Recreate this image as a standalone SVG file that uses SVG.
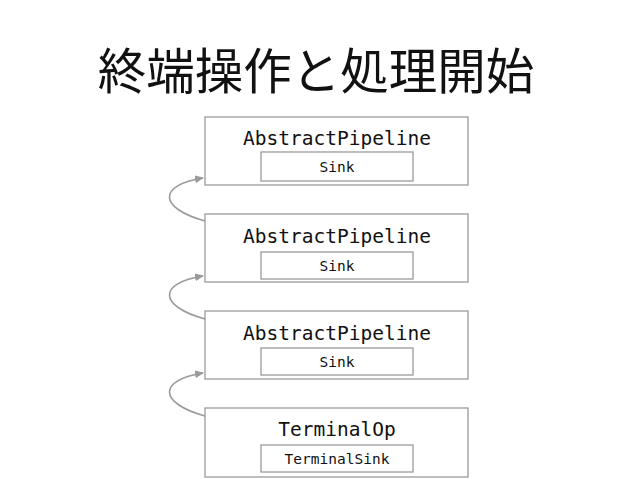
<svg xmlns="http://www.w3.org/2000/svg" width="638" height="479" viewBox="0 0 638 479">
<defs>
<style>
.box{fill:#fff;stroke:#9a9a9a;stroke-width:1.3}
.t{font-family:"DejaVu Sans Mono","Liberation Mono",monospace;fill:#111;text-anchor:middle}
.big{font-size:19.5px}
.small{font-size:14.5px}
.conn{fill:none;stroke:#9a9a9a;stroke-width:1.6}
</style>
<marker id="ah" markerWidth="10" markerHeight="8" refX="8" refY="4" orient="auto" markerUnits="userSpaceOnUse">
<path d="M0,0 L9,4 L0,8 z" fill="#9a9a9a"/>
</marker>
</defs>
<rect width="638" height="479" fill="#fff"/>
<text x="316" y="89" font-family="'Noto Sans CJK JP',sans-serif" font-size="48.5" text-anchor="middle" fill="#111">終端操作と処理開始</text>
<g id="n1">
<rect class="box" x="205" y="117" width="263" height="68"/>
<text class="t big" x="337" y="145">AbstractPipeline</text>
<rect class="box" x="261" y="152" width="152" height="29"/>
<text class="t small" x="337" y="172">Sink</text>
</g>
<g id="n2">
<rect class="box" x="205" y="214" width="263" height="68"/>
<text class="t big" x="337" y="243">AbstractPipeline</text>
<rect class="box" x="261" y="252" width="152" height="27"/>
<text class="t small" x="337" y="271">Sink</text>
</g>
<g id="n3">
<rect class="box" x="205" y="311" width="263" height="68"/>
<text class="t big" x="337" y="340">AbstractPipeline</text>
<rect class="box" x="261" y="348" width="152" height="27"/>
<text class="t small" x="337" y="367">Sink</text>
</g>
<g id="n4">
<rect class="box" x="205" y="408" width="263" height="69"/>
<text class="t big" x="337" y="436">TerminalOp</text>
<rect class="box" x="261" y="445" width="152" height="27"/>
<text class="t small" x="337" y="464">TerminalSink</text>
</g>
<g id="connectors">
<path class="conn" d="M205,221 C158,208 158,185 203,178" marker-end="url(#ah)"/>
<path class="conn" d="M205,319 C158,306 158,283 203,276" marker-end="url(#ah)"/>
<path class="conn" d="M205,416 C158,403 158,380 203,373" marker-end="url(#ah)"/>
</g>
</svg>
